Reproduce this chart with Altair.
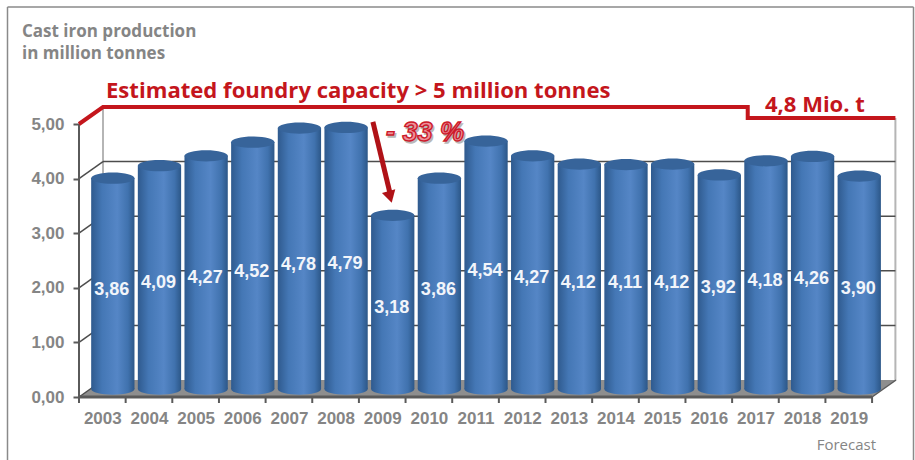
import altair as alt
import pandas as pd

# Cast iron production per year, million tonnes
YEARS = list(range(2003, 2020))
VALUES = [3.86, 4.09, 4.27, 4.52, 4.78, 4.79, 3.18, 3.86, 4.54, 4.27, 4.12, 4.11, 4.12, 3.92, 4.18, 4.26, 3.90]
Y_TICKS = [0, 1, 2, 3, 4, 5]
CAPACITY = 5.0
CAPACITY_FORECAST = 4.8
CAPACITY_STEP_YEAR = 2016.32

# Plot box and pseudo-3D depth of the back wall
W, H = 816.4, 292
YEAR_MIN, YEAR_MAX = 2002.5, 2020.0
UNIT_Y = 54.6
Y_MAX = H / UNIT_Y
DX = 24 / (W / (YEAR_MAX - YEAR_MIN))
DY = 17 / UNIT_Y
FRONT_RIGHT = 2019.5
TICK_DROP = -0.11

GREY_TEXT = "#858585"
AXIS_DARK = "#5a5a5a"
RED = "#c4161c"
FONT = "Liberation Sans"

x_scale = alt.Scale(domain=[YEAR_MIN, YEAR_MAX], nice=False, zero=False, padding=0)
y_scale = alt.Scale(domain=[0, Y_MAX], nice=False, zero=True, padding=0)

bars_df = pd.DataFrame({"year": YEARS, "value": VALUES})
bars_df["label"] = [f"{v:.2f}".replace(".", ",") for v in VALUES]
bars_df["mid"] = bars_df["value"] / 2
bars_df["base"] = 0.0

X_AXIS = alt.Axis(values=YEARS, format="d", domain=False, grid=False, ticks=False, title=None,
                  labelFont=FONT, labelFontSize=17, labelFontWeight="bold",
                  labelColor=GREY_TEXT, labelPadding=13, labelOverlap=False, labelFlush=False)
Y_AXIS = alt.Axis(values=Y_TICKS, domain=False, grid=False, title=None,
                  tickSize=6, tickWidth=2, tickColor=AXIS_DARK,
                  labelExpr="replace(format(datum.value, '.2f'), '.', ',')",
                  labelFont=FONT, labelFontSize=17, labelFontWeight="bold",
                  labelColor=GREY_TEXT, labelPadding=9)


def xq(field):
    return alt.X(f"{field}:Q", scale=x_scale, axis=X_AXIS, title=None)


def yq(field):
    return alt.Y(f"{field}:Q", scale=y_scale, axis=Y_AXIS, title=None)


# Back wall: gridlines, depth connectors and the two vertical edges
grid_df = pd.DataFrame({"v": Y_TICKS[:-1]})
grid_df["y"] = grid_df["v"] + DY
grid_df["x0"] = YEAR_MIN + DX
grid_df["x1"] = YEAR_MAX
back_grid = alt.Chart(grid_df[grid_df.v > 0]).mark_rule(color="#4d4d4d", strokeWidth=1.5).encode(
    x=xq("x0"), x2="x1:Q", y=yq("y"))

connect_df = pd.DataFrame({"v": Y_TICKS})
connect_df["y1"] = connect_df["v"] + DY
connect_df["x0"] = YEAR_MIN
connect_df["x1"] = YEAR_MIN + DX
connectors = alt.Chart(connect_df[connect_df.v < 5]).mark_rule(color="#4d4d4d", strokeWidth=1.5).encode(
    x=xq("x0"), x2="x1:Q", y=yq("v"), y2="y1:Q")

wall_df = pd.DataFrame({"x": [YEAR_MIN + DX, YEAR_MAX], "lo": [DY, DY], "hi": [CAPACITY + DY, CAPACITY_FORECAST + DY]})
wall_edges = alt.Chart(wall_df).mark_rule(color="#b5b5b5", strokeWidth=2).encode(
    x=xq("x"), y=yq("lo"), y2="hi:Q")

# Floor of the box, a parallelogram in front of the wall
floor_df = pd.DataFrame({
    "x": [YEAR_MIN, YEAR_MIN + DX, FRONT_RIGHT, FRONT_RIGHT + DX],
    "lo": [0, 0, 0, DY],
    "hi": [0, DY, DY, DY],
})
floor = alt.Chart(floor_df).mark_area(color="#8e8e8e").encode(
    x=xq("x"), y=yq("lo"), y2="hi:Q")

front_df = pd.DataFrame({"x0": [YEAR_MIN], "x1": [FRONT_RIGHT], "y": [0.0]})
front_edge = alt.Chart(front_df).mark_rule(color=AXIS_DARK, strokeWidth=3).encode(
    x=xq("x0"), x2="x1:Q", y=yq("y"))
right_df = pd.DataFrame({"x0": [FRONT_RIGHT], "x1": [FRONT_RIGHT + DX], "y0": [0.0], "y1": [DY]})
right_edge = alt.Chart(right_df).mark_rule(color=AXIS_DARK, strokeWidth=1.5).encode(
    x=xq("x0"), x2="x1:Q", y=yq("y0"), y2="y1:Q")
# Vertical axis line, running a tick's length below zero
axis_df = pd.DataFrame({"x": [YEAR_MIN], "y0": [TICK_DROP], "y1": [CAPACITY]})
axis_line = alt.Chart(axis_df).mark_rule(color=AXIS_DARK, strokeWidth=2).encode(
    x=xq("x"), y=yq("y0"), y2="y1:Q")
# Year ticks sit on the category boundaries, between the labels
edge_df = pd.DataFrame({"x": [y + 0.5 for y in YEARS], "y0": TICK_DROP, "y1": 0.0})
year_ticks = alt.Chart(edge_df).mark_rule(color=AXIS_DARK, strokeWidth=2).encode(
    x=xq("x"), y=yq("y0"), y2="y1:Q")

# Cylinders: shaded body, rounded foot and darker top ellipse
BAR_W = 43.3
BAR_DX, BAR_DY = 10.5, -8
body_fill = alt.Gradient(
    gradient="linear", x1=0, y1=0, x2=1, y2=0,
    stops=[alt.GradientStop(color="#2f5a8e", offset=0),
           alt.GradientStop(color="#4477b5", offset=0.25),
           alt.GradientStop(color="#5586c6", offset=0.6),
           alt.GradientStop(color="#4072ae", offset=0.85),
           alt.GradientStop(color="#2c5788", offset=1)])
ELLIPSE = "M-1,0 A1,0.26 0 1 1 1,0 A1,0.26 0 1 1 -1,0 Z"
ELLIPSE_SIZE = BAR_W ** 2

bodies = alt.Chart(bars_df).mark_bar(width=BAR_W, fill=body_fill, xOffset=BAR_DX, yOffset=BAR_DY).encode(
    x=xq("year"), y=yq("value"))
feet = alt.Chart(bars_df).mark_point(shape=ELLIPSE, size=ELLIPSE_SIZE, filled=True, fill=body_fill,
                                     opacity=1, xOffset=BAR_DX, yOffset=BAR_DY).encode(
    x=xq("year"), y=yq("base"))
caps = alt.Chart(bars_df).mark_point(shape=ELLIPSE, size=ELLIPSE_SIZE, filled=True, fill="#37649a",
                                     opacity=1, xOffset=BAR_DX, yOffset=BAR_DY).encode(
    x=xq("year"), y=yq("value"))
value_labels = alt.Chart(bars_df).mark_text(
    font=FONT, fontSize=18, fontWeight="bold", color="#f2f5fa", xOffset=9.5, yOffset=-2, baseline="middle"
).encode(x=xq("year"), y=yq("mid"), text="label:N")

# Capacity line, drawn on the back wall with a run-in from the front axis
cap_df = pd.DataFrame({
    "order": range(5),
    "x": [YEAR_MIN, YEAR_MIN + DX, CAPACITY_STEP_YEAR + DX, CAPACITY_STEP_YEAR + DX, YEAR_MAX],
    "y": [CAPACITY, CAPACITY + DY, CAPACITY + DY, CAPACITY_FORECAST + DY, CAPACITY_FORECAST + DY],
})
capacity_line = alt.Chart(cap_df).mark_line(color=RED, strokeWidth=4, strokeJoin="miter").encode(
    x=xq("x"), y=yq("y"), order="order:Q")

# Arrow marking the 2009 drop
arrow_df = pd.DataFrame({"x0": [2008.8], "x1": [2009.17], "y0": [5.04], "y1": [3.72]})
arrow_shaft = alt.Chart(arrow_df).mark_rule(color="#b01217", strokeWidth=5).encode(
    x=xq("x0"), x2="x1:Q", y=yq("y0"), y2="y1:Q")
arrow_head = alt.Chart(arrow_df).mark_point(shape="triangle-down", filled=True, size=190, opacity=1,
                                            color="#b01217", angle=345, yOffset=3).encode(
    x=xq("x1"), y=yq("y1"))


def caption(text, px, py, **mark):
    """Fixed annotation placed in pixels relative to the plot origin."""
    frame = pd.DataFrame({"t": [text]})
    return alt.Chart(frame).mark_text(align=mark.pop("align", "left"), baseline="alphabetic", **mark).encode(
        x=alt.value(px), y=alt.value(py), text="t:N")


captions = [
    caption("Cast iron production", -57, -68, font="Open Sans", fontSize=17, fontWeight="bold", color=GREY_TEXT),
    caption("in million tonnes", -57, -46, font="Open Sans", fontSize=17, fontWeight="bold", color=GREY_TEXT),
    caption("Estimated foundry capacity > 5 million tonnes", 27, -7, font="Open Sans", fontSize=22.1,
            fontWeight="bold", color=RED),
    caption("4,8 Mio. t", 686, 7, font="Open Sans", fontSize=22, fontWeight="bold", color=RED),
    # Embossed percentage: soft grey shadow under a red outline
    caption("- 33 %", 308.5, 37.5, font=FONT, fontSize=27, fontWeight="bold", fontStyle="italic",
            color="#b9b9b9", stroke="#b9b9b9", strokeWidth=1.4),
    caption("- 33 %", 307, 36, font=FONT, fontSize=27, fontWeight="bold", fontStyle="italic",
            color="#ee8f99", stroke="#cc1a2a", strokeWidth=1.4),
    caption("Forecast", 797, 345, align="right", font="Open Sans", fontSize=15, color=GREY_TEXT),
]

# Page frame, open at the bottom
frame_df = pd.DataFrame({"n": [0]})
frame_style = dict(color="#8a8a8a", strokeWidth=1.5)
frame_top = alt.Chart(frame_df).mark_rule(**frame_style).encode(
    x=alt.value(-71.5), x2=alt.value(834.5), y=alt.value(-98))
frame_left = alt.Chart(frame_df).mark_rule(**frame_style).encode(
    x=alt.value(-71.5), y=alt.value(-98), y2=alt.value(355))
frame_right = alt.Chart(frame_df).mark_rule(**frame_style).encode(
    x=alt.value(834.5), y=alt.value(-98), y2=alt.value(355))

chart = alt.layer(
    frame_top, frame_left, frame_right, *captions,
    wall_edges, back_grid, floor, connectors, front_edge, right_edge, axis_line, year_ticks,
    bodies, feet, caps, value_labels, capacity_line, arrow_shaft, arrow_head,
).properties(
    width=W, height=H,
    padding={"left": 79, "top": 105, "right": 915 - 79 - W, "bottom": 63},
    autosize=alt.AutoSizeParams(type="none"),
    background="white",
).configure_view(stroke=None)

chart.save("out.html", embed_options={"renderer": "svg", "actions": False})
